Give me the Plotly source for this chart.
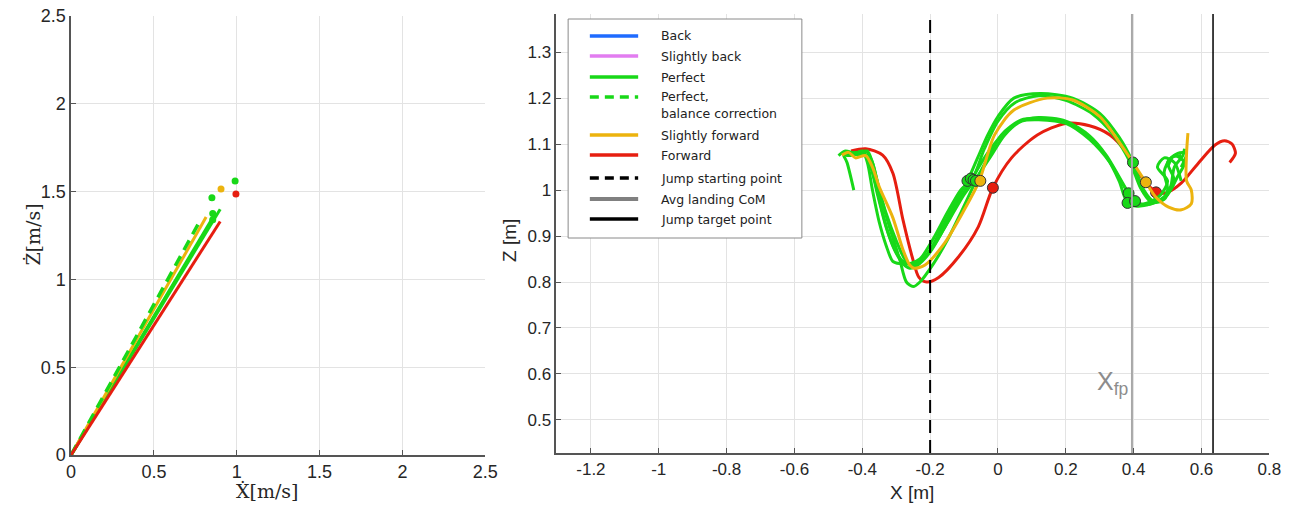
import plotly.graph_objects as go

W, H = 1307, 510

# ---------------- colours ----------------
C_BACK = "#1f6bff"
C_SBACK = "#e27cf0"
C_GREEN = "#18d818"
C_ORANGE = "#ecb30e"
C_RED = "#e61e10"

# ---------------- left panel data (velocity at take-off) ----------------
vel_red_x = [0.0, 0.90]
vel_red_z = [0.0, 1.33]
vel_orange_x = [0.0, 0.815]
vel_orange_z = [0.0, 1.355]
vel_green_lines = [([0.0, 0.90], [0.0, 1.40]),
                   ([0.0, 0.87], [0.0, 1.375]),
                   ([0.0, 0.86], [0.0, 1.35])]
vel_green_dash_x = [0.0, 0.77]
vel_green_dash_z = [0.0, 1.32]

dot_x = [0.85, 0.905, 0.99, 0.995, 0.855, 0.855]
dot_z = [1.465, 1.515, 1.56, 1.487, 1.375, 1.34]
dot_c = [C_GREEN, C_ORANGE, C_GREEN, C_RED, C_GREEN, C_GREEN]

# ---------------- right panel data (CoM trajectories) ----------------
red_x = [-0.433, -0.39, -0.34, -0.31, -0.28, -0.253, -0.233, -0.21, -0.175, -0.116, -0.058,
         -0.015, 0.04, 0.116, 0.2, 0.27, 0.33, 0.378, 0.416, 0.45, 0.48, 0.50, 0.54, 0.59,
         0.64, 0.668, 0.69, 0.70, 0.683]
red_z = [1.085, 1.09, 1.076, 1.037, 0.935, 0.855, 0.81, 0.80, 0.81, 0.855, 0.92,
         1.005, 1.07, 1.12, 1.145, 1.14, 1.12, 1.083, 1.036, 1.005, 0.993, 0.995, 1.015, 1.058,
         1.098, 1.107, 1.10, 1.08, 1.06]

orange_x = [-0.46, -0.44, -0.42, -0.39, -0.37, -0.35, -0.31, -0.28, -0.26, -0.247, -0.215,
            -0.157, -0.1, -0.055, -0.01, 0.047, 0.145, 0.22, 0.30, 0.367, 0.436, 0.465,
            0.503, 0.541, 0.57, 0.57, 0.556, 0.556, 0.56]
orange_z = [1.076, 1.082, 1.07, 1.075, 1.05, 1.007, 0.94, 0.87, 0.837, 0.83, 0.837,
            0.885, 0.956, 1.02, 1.12, 1.174, 1.2, 1.196, 1.16, 1.094, 1.017, 0.985,
            0.963, 0.957, 0.97, 1.0, 1.02, 1.08, 1.124]

green1_x = [-0.425, -0.445, -0.455, -0.43, -0.405, -0.385, -0.37, -0.35, -0.33, -0.30, -0.275,
            -0.255, -0.235, -0.2, -0.16, -0.12, -0.09, -0.06, -0.03, 0.0, 0.047, 0.125, 0.22,
            0.30, 0.357, 0.398, 0.43, 0.46, 0.49, 0.51, 0.52, 0.545, 0.55]
green1_z = [1.00, 1.06, 1.078, 1.08, 1.075, 1.085, 1.06, 1.0, 0.95, 0.89, 0.85,
            0.835, 0.84, 0.87, 0.925, 0.98, 1.02, 1.07, 1.12, 1.16, 1.2, 1.21, 1.2,
            1.167, 1.115, 1.06, 1.0, 0.975, 0.98, 1.01, 1.05, 1.075, 1.09]

green2_x = [-0.47, -0.45, -0.42, -0.40, -0.385, -0.37, -0.35, -0.33, -0.31, -0.29, -0.26,
            -0.23, -0.19, -0.15, -0.11, -0.075, -0.04, 0.0, 0.05, 0.12, 0.2, 0.28, 0.34,
            0.39, 0.42, 0.45, 0.48, 0.50, 0.49, 0.51, 0.54]
green2_z = [1.075, 1.085, 1.08, 1.085, 1.06, 1.0, 0.93, 0.88, 0.845, 0.84, 0.84,
            0.85, 0.895, 0.95, 1.0, 1.025, 1.09, 1.15, 1.19, 1.205, 1.195, 1.165, 1.12,
            1.06, 1.005, 0.975, 0.975, 1.0, 1.04, 1.07, 1.075]

green3_x = [-0.46, -0.44, -0.41, -0.39, -0.37, -0.35, -0.32, -0.29, -0.27, -0.25, -0.23,
            -0.19, -0.15, -0.11, -0.065, -0.03, 0.01, 0.067, 0.125, 0.2, 0.27, 0.32, 0.357,
            0.382, 0.41, 0.45, 0.49, 0.52, 0.50, 0.53, 0.555, 0.54]
green3_z = [1.08, 1.075, 1.08, 1.085, 1.06, 1.0, 0.92, 0.85, 0.80, 0.79, 0.80,
            0.84, 0.89, 0.95, 1.02, 1.07, 1.12, 1.152, 1.156, 1.148, 1.115, 1.072, 1.02,
            0.972, 0.965, 0.97, 0.985, 1.02, 1.06, 1.08, 1.08, 1.05]

green4_x = [-0.45, -0.42, -0.395, -0.375, -0.355, -0.33, -0.305, -0.28, -0.26, -0.24, -0.2,
            -0.16, -0.12, -0.08, -0.04, 0.0, 0.06, 0.12, 0.2, 0.27, 0.32, 0.36, 0.385,
            0.41, 0.45, 0.48, 0.50, 0.47, 0.49, 0.52, 0.54]
green4_z = [1.075, 1.082, 1.08, 1.05, 0.99, 0.92, 0.87, 0.84, 0.83, 0.835, 0.865,
            0.915, 0.97, 1.02, 1.07, 1.11, 1.148, 1.158, 1.15, 1.118, 1.075, 1.025, 0.993,
            0.97, 0.975, 0.99, 1.02, 1.05, 1.07, 1.06, 1.02]

green5_x = [-0.44, -0.41, -0.39, -0.37, -0.35, -0.325, -0.3, -0.28, -0.255, -0.22, -0.18,
            -0.14, -0.1, -0.06, -0.02, 0.02, 0.07, 0.12, 0.2, 0.27, 0.33, 0.37, 0.404,
            0.43, 0.47, 0.50, 0.53, 0.55, 0.52, 0.50]
green5_z = [1.08, 1.078, 1.075, 1.04, 0.98, 0.91, 0.865, 0.845, 0.84, 0.85, 0.89,
            0.94, 0.99, 1.03, 1.075, 1.12, 1.15, 1.153, 1.145, 1.11, 1.06, 1.01, 0.976,
            0.968, 0.975, 0.99, 1.03, 1.06, 1.075, 1.05]

# take-off and landing markers
to_x = [-0.09, -0.08, -0.072, -0.065, -0.052, -0.015]
to_z = [1.02, 1.025, 1.022, 1.02, 1.02, 1.005]
to_c = [C_GREEN, C_GREEN, C_GREEN, C_GREEN, C_ORANGE, C_RED]
land_x = [0.466, 0.398, 0.385, 0.382, 0.404, 0.436]
land_z = [0.995, 1.06, 0.993, 0.972, 0.976, 1.017]
land_c = [C_RED, C_GREEN, C_GREEN, C_GREEN, C_GREEN, C_ORANGE]

jump_start_x = -0.2
avg_landing_x = 0.395
jump_target_x = 0.634

legend_labels = ["Back", "Slightly back", "Perfect", "Perfect,", "Slightly forward", "Forward",
                 "Jump starting point", "Avg landing CoM", "Jump target point"]
legend_colors = [C_BACK, C_SBACK, C_GREEN, C_GREEN, C_ORANGE, C_RED, "black", "#808080", "black"]
legend_dashes = ["solid", "solid", "solid", "dash", "solid", "solid", "dash", "solid", "solid"]
legend_rows_px = [36, 56, 77, 97, 135, 155, 178, 199, 219]

fig = go.Figure()

# ---- left panel
for gx, gz in vel_green_lines:
    fig.add_trace(go.Scatter(x=gx, y=gz, mode="lines", line=dict(color=C_GREEN, width=3),
                             showlegend=False, xaxis="x", yaxis="y"))
fig.add_trace(go.Scatter(x=vel_orange_x, y=vel_orange_z, mode="lines",
                         line=dict(color=C_ORANGE, width=3), showlegend=False, xaxis="x", yaxis="y"))
fig.add_trace(go.Scatter(x=vel_green_dash_x, y=vel_green_dash_z, mode="lines",
                         line=dict(color=C_GREEN, width=3.5, dash="11px,7px"),
                         showlegend=False, xaxis="x", yaxis="y"))
fig.add_trace(go.Scatter(x=vel_red_x, y=vel_red_z, mode="lines",
                         line=dict(color=C_RED, width=3), showlegend=False, xaxis="x", yaxis="y"))
fig.add_trace(go.Scatter(x=dot_x, y=dot_z, mode="markers",
                         marker=dict(color=dot_c, size=7, line=dict(width=0)),
                         showlegend=False, xaxis="x", yaxis="y"))

# ---- right panel
def traj(x, z, c):
    fig.add_trace(go.Scatter(x=x, y=z, mode="lines",
                             line=dict(color=c, width=3, shape="spline", smoothing=0.8),
                             showlegend=False, xaxis="x2", yaxis="y2"))

fig.add_trace(go.Scatter(x=land_x[:1], y=land_z[:1], mode="markers",
                         marker=dict(color=land_c[:1], size=11, line=dict(color="#333333", width=1)),
                         showlegend=False, xaxis="x2", yaxis="y2"))
traj(red_x, red_z, C_RED)
for gx, gz in [(green3_x, green3_z), (green4_x, green4_z), (green5_x, green5_z),
               (green1_x, green1_z), (green2_x, green2_z)]:
    traj(gx, gz, C_GREEN)
traj(orange_x, orange_z, C_ORANGE)

fig.add_trace(go.Scatter(x=to_x, y=to_z, mode="markers",
                         marker=dict(color=to_c, size=11, line=dict(color="#333333", width=1)),
                         showlegend=False, xaxis="x2", yaxis="y2"))
fig.add_trace(go.Scatter(x=land_x[1:], y=land_z[1:], mode="markers",
                         marker=dict(color=land_c[1:], size=11, line=dict(color="#333333", width=1)),
                         showlegend=False, xaxis="x2", yaxis="y2"))

# vertical reference lines
fig.add_shape(type="line", xref="x2", yref="y2 domain", x0=jump_start_x, x1=jump_start_x,
              y0=0, y1=1, line=dict(color="black", width=2, dash="13px,7px"))
fig.add_shape(type="line", xref="x2", yref="y2 domain", x0=avg_landing_x, x1=avg_landing_x,
              y0=0, y1=1, line=dict(color="#a8a8a8", width=2))
fig.add_shape(type="line", xref="x2", yref="y2 domain", x0=jump_target_x, x1=jump_target_x,
              y0=0, y1=1, line=dict(color="black", width=1.5))

fig.add_annotation(x=0.338, y=0.58, xref="x2", yref="y2", text="X<sub>fp</sub>",
                   showarrow=False, xanchor="center", yanchor="middle",
                   font=dict(family="Liberation Sans", size=25, color="#8c8c8c"))

TICKF = dict(family="Liberation Sans", size=18, color="#262626")
TICKF2 = dict(family="Liberation Sans", size=17, color="#262626")
GRID = "#e3e3e3"
AX = "#555555"

pt, pb = 14, 55
ph = H - pt - pb
PB = H - pb  # pixel row of paper y = 0


def py2paper(py):
    return (PB - py) / ph


fig.update_layout(
    width=W, height=H,
    margin=dict(l=0, r=0, t=pt, b=pb),
    paper_bgcolor="white", plot_bgcolor="white",
    showlegend=False,
    xaxis=dict(domain=[67 / W, 487 / W], range=[0, 2.5], tickvals=[0, 0.5, 1, 1.5, 2, 2.5],
               ticktext=["0", "0.5", "1", "1.5", "2", "2.5"],
               showgrid=True, gridcolor=GRID, zeroline=False, showline=True, linecolor=AX,
               linewidth=1.5, ticks="inside", ticklen=5, tickcolor=AX, tickfont=TICKF),
    yaxis=dict(domain=[0, py2paper(16)], range=[0, 2.5], tickvals=[0, 0.5, 1, 1.5, 2, 2.5],
               ticktext=["0", "0.5", "1", "1.5", "2", "2.5"],
               showgrid=True, gridcolor=GRID, zeroline=False, showline=True, linecolor=AX,
               linewidth=1.5, ticks="inside", ticklen=5, tickcolor=AX, tickfont=TICKF),
    xaxis2=dict(domain=[559 / W, 1282 / W], range=[-1.302, 0.8],
                tickvals=[-1.2, -1, -0.8, -0.6, -0.4, -0.2, 0, 0.2, 0.4, 0.6, 0.8],
                ticktext=["-1.2", "-1", "-0.8", "-0.6", "-0.4", "-0.2", "0", "0.2", "0.4", "0.6", "0.8"],
                showgrid=True, gridcolor=GRID, zeroline=False, showline=True, linecolor=AX,
                linewidth=1.5, ticks="inside", ticklen=5, tickcolor=AX, tickfont=TICKF2,
                anchor="y2"),
    yaxis2=dict(domain=[py2paper(453), 1], range=[0.428, 1.383],
                tickvals=[0.5, 0.6, 0.7, 0.8, 0.9, 1.0, 1.1, 1.2, 1.3],
                ticktext=["0.5", "0.6", "0.7", "0.8", "0.9", "1", "1.1", "1.2", "1.3"],
                showgrid=True, gridcolor=GRID, zeroline=False, showline=True, linecolor=AX,
                linewidth=1.5, ticks="inside", ticklen=5, tickcolor=AX, tickfont=TICKF2,
                anchor="x2"),
)

# ---- manual legend
fig.add_shape(type="rect", xref="paper", yref="paper",
              x0=571 / W, x1=808 / W, y0=py2paper(238), y1=py2paper(19),
              line=dict(color="#8a8a8a", width=1), fillcolor="white", layer="above")
LEGF = dict(family="DejaVu Sans", size=12.5, color="#222222")
for lab, col, dsh, row in zip(legend_labels, legend_colors, legend_dashes, legend_rows_px):
    fig.add_shape(type="line", xref="paper", yref="paper",
                  x0=593 / W, x1=642 / W, y0=py2paper(row), y1=py2paper(row),
                  line=dict(color=col, width=3.5 if col != "#808080" else 4,
                            dash="9px,6px" if dsh == "dash" else "solid"),
                  layer="above")
    fig.add_annotation(x=663 / W, y=py2paper(row), xref="paper", yref="paper",
                       xanchor="left", yanchor="middle", text=lab, showarrow=False, font=LEGF)
fig.add_annotation(x=663 / W, y=py2paper(114), xref="paper", yref="paper",
                   xanchor="left", yanchor="middle", text="balance correction",
                   showarrow=False, font=LEGF)

# ---- axis labels
fig.add_annotation(x=266 / W, y=py2paper(491), xref="paper", yref="paper",
                   xanchor="center", yanchor="middle",
                   text="Ẋ[m/s]", showarrow=False,
                   font=dict(family="DejaVu Serif", size=19, color="#262626"))
fig.add_annotation(x=28 / W, y=py2paper(235), xref="paper", yref="paper",
                   xanchor="center", yanchor="middle",
                   text="Ż[m/s]", showarrow=False, textangle=-90,
                   font=dict(family="DejaVu Serif", size=19, color="#262626"))
fig.add_annotation(x=920 / W, y=py2paper(492), xref="paper", yref="paper",
                   xanchor="center", yanchor="middle",
                   text="X [m]", showarrow=False,
                   font=dict(family="Liberation Sans", size=19, color="#262626"))
fig.add_annotation(x=511 / W, y=py2paper(240), xref="paper", yref="paper",
                   xanchor="center", yanchor="middle",
                   text="Z [m]", showarrow=False, textangle=-90,
                   font=dict(family="Liberation Sans", size=19, color="#262626"))

fig.write_html("out.html")
